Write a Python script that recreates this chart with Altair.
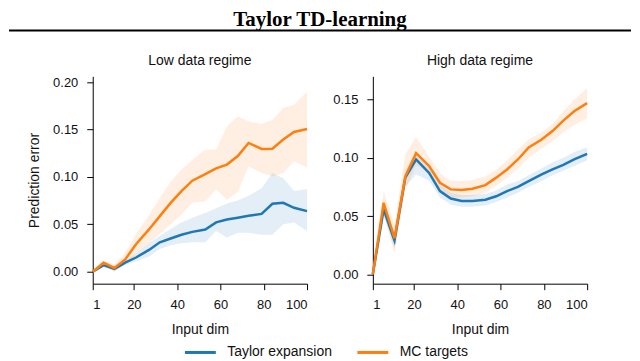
import altair as alt
import pandas as pd

dims = [1, 6, 11, 16, 21, 27, 32, 37, 42, 47, 53, 58, 63, 68, 73, 79, 84, 89, 94, 100]
series_names = ["Taylor expansion", "MC targets"]
series_colors = ["#1f77b4", "#ff7f0e"]

# Low data regime
taylor_low = [0.000, 0.007, 0.003, 0.0095, 0.015, 0.023, 0.031, 0.035, 0.039, 0.042,
              0.0445, 0.052, 0.055, 0.057, 0.059, 0.061, 0.0716, 0.0726, 0.0674, 0.0639]
taylor_low_lo = [0.000, 0.005, 0.001, 0.007, 0.011, 0.016, 0.024, 0.028, 0.030, 0.031,
                 0.031, 0.043, 0.036, 0.041, 0.041, 0.039, 0.039, 0.050, 0.052, 0.043]
taylor_low_hi = [0.000, 0.009, 0.005, 0.012, 0.019, 0.030, 0.038, 0.045, 0.052, 0.057,
                 0.062, 0.067, 0.072, 0.075, 0.080, 0.088, 0.104, 0.0986, 0.085, 0.087]
mc_low = [0.000, 0.0095, 0.004, 0.013, 0.029, 0.0446, 0.0586, 0.0726, 0.085, 0.096,
          0.103, 0.109, 0.113, 0.122, 0.1358, 0.1295, 0.1297, 0.1394, 0.1474, 0.1505]
mc_low_lo = [0.000, 0.007, 0.000, 0.008, 0.018, 0.030, 0.040, 0.050, 0.060, 0.073,
             0.074, 0.087, 0.076, 0.084, 0.111, 0.104, 0.1007, 0.104, 0.1165, 0.1095]
mc_low_hi = [0.000, 0.012, 0.008, 0.020, 0.040, 0.060, 0.078, 0.095, 0.108, 0.118,
             0.129, 0.129, 0.153, 0.164, 0.1586, 0.156, 0.160, 0.173, 0.176, 0.190]

# High data regime
taylor_high = [0.000, 0.0557, 0.029, 0.083, 0.0986, 0.087, 0.0714, 0.065, 0.063, 0.063,
               0.064, 0.067, 0.0714, 0.075, 0.080, 0.0857, 0.090, 0.094, 0.0986, 0.1034]
taylor_high_lo = [0.000, 0.050, 0.022, 0.075, 0.086, 0.080, 0.066, 0.060, 0.058, 0.058,
                  0.059, 0.062, 0.066, 0.070, 0.075, 0.080, 0.085, 0.089, 0.093, 0.098]
taylor_high_hi = [0.000, 0.062, 0.036, 0.090, 0.105, 0.093, 0.077, 0.070, 0.068, 0.068,
                  0.069, 0.072, 0.077, 0.080, 0.085, 0.091, 0.096, 0.100, 0.105, 0.109]
mc_high = [0.000, 0.0614, 0.031, 0.084, 0.104, 0.093, 0.0786, 0.0729, 0.0723, 0.0734,
           0.0766, 0.083, 0.090, 0.0986, 0.109, 0.1157, 0.123, 0.132, 0.140, 0.147]
mc_high_lo = [0.000, 0.053, 0.018, 0.072, 0.094, 0.086, 0.072, 0.066, 0.066, 0.067,
              0.070, 0.076, 0.083, 0.091, 0.100, 0.108, 0.114, 0.122, 0.128, 0.134]
mc_high_hi = [0.000, 0.072, 0.042, 0.103, 0.118, 0.101, 0.087, 0.080, 0.080, 0.081,
              0.084, 0.090, 0.098, 0.107, 0.116, 0.122, 0.129, 0.140, 0.150, 0.160]

x_ticks = [1, 20, 40, 60, 80, 100]
low_yticks = [0.0, 0.05, 0.10, 0.15, 0.20]
high_yticks = [0.0, 0.05, 0.10, 0.15]

FONT = "Liberation Sans"


def make_df(t, tlo, thi, m, mlo, mhi):
    rows = []
    for name, mean, lo, hi in [(series_names[0], t, tlo, thi), (series_names[1], m, mlo, mhi)]:
        for d, a, b, c in zip(dims, mean, lo, hi):
            rows.append({"dim": d, "series": name, "mean": a, "lo": b, "hi": c})
    return pd.DataFrame(rows)


color_scale = alt.Scale(domain=series_names, range=series_colors)
legend = alt.Legend(title=None, orient="none", direction="horizontal",
                    legendX=91, legendY=306, symbolType="stroke",
                    symbolSize=961, symbolStrokeWidth=3, symbolOpacity=1,
                    labelFontSize=14, labelFont=FONT, labelColor="#111",
                    columnPadding=18, labelOffset=10)
color = alt.Color("series:N", scale=color_scale, legend=legend, sort=series_names)


def panel(df, ydomain, yticks, title, ytitle):
    x = alt.X("dim:Q", scale=alt.Scale(domain=[1, 100], nice=False, zero=False),
              axis=alt.Axis(values=x_ticks, title="Input dim", format="d"))
    yscale = alt.Scale(domain=ydomain, nice=False, zero=False)
    yaxis = alt.Axis(values=yticks, format=".2f", title=ytitle)
    band = alt.Chart(df).mark_area(opacity=0.12).encode(
        x=x,
        y=alt.Y("lo:Q", scale=yscale, axis=yaxis),
        y2="hi:Q",
        color=color,
    )
    line = alt.Chart(df).mark_line(strokeWidth=2.5).encode(
        x=x,
        y=alt.Y("mean:Q", scale=yscale, axis=yaxis),
        color=color,
    )
    return alt.layer(band, line).properties(
        width=215, height=208,
        title=alt.TitleParams(title, fontSize=14, font=FONT, fontWeight="normal",
                              color="#111", anchor="middle", offset=8),
    )


low = panel(make_df(taylor_low, taylor_low_lo, taylor_low_hi, mc_low, mc_low_lo, mc_low_hi),
            [-0.0126, 0.206], low_yticks, "Low data regime", "Prediction error")
high = panel(make_df(taylor_high, taylor_high_lo, taylor_high_hi, mc_high, mc_high_lo, mc_high_hi),
             [-0.0081, 0.170], high_yticks, "High data regime", None)

header = alt.Chart(pd.DataFrame({"a": [0]})).mark_rule(color="black", strokeWidth=1.8).encode(
    x=alt.value(-84), x2=alt.value(540), y=alt.value(0)
).properties(width=496, height=1)

panels = alt.hconcat(low, high, spacing=66, bounds="flush")

chart = alt.vconcat(header, panels, spacing=45, bounds="flush").properties(
    title=alt.TitleParams("Taylor TD-learning", font="Liberation Serif", fontSize=21,
                          fontWeight="bold", color="black", anchor="middle", dx=0,
                          offset=0),
    padding=0,
).configure_view(stroke=None).configure_axis(
    grid=False, domainColor="black", tickColor="black", domainWidth=1, tickWidth=1,
    tickSize=6, labelFont=FONT, labelFontSize=13, labelColor="#111", titleFont=FONT,
    titleFontSize=14, titleColor="#111", titleFontWeight="normal", labelPadding=9,
    titlePadding=11,
)

chart.save("out.html", embed_options={"renderer": "svg", "actions": False})
